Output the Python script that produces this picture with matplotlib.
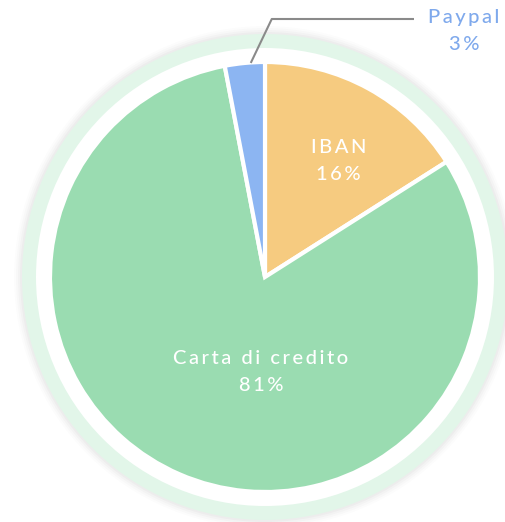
import numpy as np
import matplotlib
matplotlib.use("Agg")
import matplotlib.pyplot as plt
from matplotlib.patches import Circle

labels = ["IBAN", "Carta di credito", "Paypal"]
shares = [16, 81, 3]
colors = ["#F6CB80", "#9ADCB1", "#8CB5F2"]

# figure in pixel coordinates
W, H = 505, 522
cx, cy = 265, H - 277
R = 215

def spaced(s, sep="\u2009"):
    return sep.join(list(s))

fig = plt.figure(figsize=(W / 100, H / 100), dpi=100)
ax = fig.add_axes([0, 0, 1, 1])

# faint shadow + light green ring
for k, a in enumerate([0.025, 0.02, 0.015, 0.01]):
    ax.add_patch(Circle((cx, cy), 243 + 2 * (k + 1), color="#000000", alpha=a, lw=0))
ax.add_patch(Circle((cx, cy), 243, color="#E2F6E9", lw=0))
ax.add_patch(Circle((cx, cy), 229, color="white", lw=0))

wedges, _ = ax.pie(shares, colors=colors, startangle=90, counterclock=False,
                   center=(cx, cy), radius=R, frame=True,
                   wedgeprops=dict(edgecolor="white", linewidth=3))
ax.set_xlim(0, W)
ax.set_ylim(0, H)
ax.set_aspect("equal")
ax.axis("off")

font = ["Lato", "DejaVu Sans"]
fs = 14.5
# inside labels: (angle deg, radius fraction)
inside = {0: (57.7, 0.64), 1: (-92.5, 0.44)}
for i, (ang, rf) in inside.items():
    x = cx + rf * R * np.cos(np.radians(ang))
    y = cy + rf * R * np.sin(np.radians(ang))
    ax.text(x, y + 13, spaced(labels[i]), color="white", fontsize=fs,
            ha="center", va="center", family=font, fontweight="medium")
    ax.text(x, y - 14, spaced(f"{shares[i]}%"), color="white", fontsize=fs,
            ha="center", va="center", family=font, fontweight="medium")

# Paypal outside label with leader line
w = wedges[2]
mid = np.radians((w.theta1 + w.theta2) / 2)
x0 = cx + R * np.cos(mid) + 6
y0 = cy + R * np.sin(mid)
ax.plot([x0, x0 + 21, 414], [y0, H - 19, H - 19], color="#8A8A8A", lw=1.5,
        solid_capstyle="butt")
ax.text(464, H - 18, spaced(labels[2]), color="#7FA9EC", fontsize=fs,
        ha="center", va="center", family=font, fontweight="medium")
ax.text(464, H - 44, spaced(f"{shares[2]}%"), color="#7FA9EC", fontsize=fs,
        ha="center", va="center", family=font, fontweight="medium")

fig.savefig("out.png", dpi=100, facecolor="white")
